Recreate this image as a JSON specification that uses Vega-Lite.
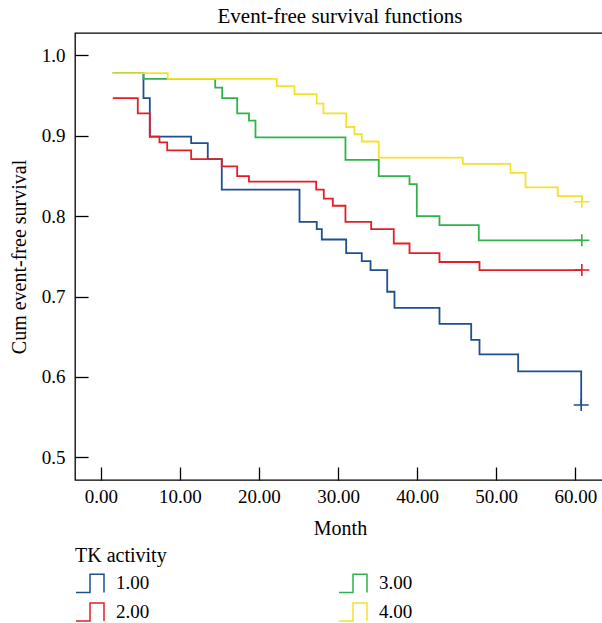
{
  "$schema": "https://vega.github.io/schema/vega-lite/v6.json",
  "autosize": {"type": "none"},
  "padding": {"left": 75, "top": 33, "right": 0, "bottom": 143},
  "width": 530,
  "height": 447,
  "background": "white",
  "title": {
    "text": "Event-free survival functions",
    "anchor": "middle",
    "font": "Liberation Serif",
    "fontSize": 21,
    "fontWeight": "normal",
    "color": "black",
    "offset": 6,
    "frame": "group"
  },
  "config": {
    "view": {"stroke": "black", "strokeWidth": 1.3},
    "axis": {
      "labelFont": "Liberation Serif",
      "titleFont": "Liberation Serif",
      "labelColor": "black",
      "titleColor": "black",
      "labelFontSize": 19,
      "titleFontSize": 20,
      "titleFontWeight": "normal",
      "domain": false,
      "grid": false,
      "tickColor": "black",
      "tickWidth": 1.3,
      "tickSize": -13
    },
    "legend": {
      "labelFont": "Liberation Serif",
      "titleFont": "Liberation Serif",
      "labelFontSize": 19,
      "titleFontSize": 20,
      "titleFontWeight": "normal",
      "labelColor": "black",
      "titleColor": "black"
    }
  },
  "datasets": {
    "curves": [
      {"g": "1.00", "m": 1.52, "s": 0.978},
      {"g": "1.00", "m": 5.40, "s": 0.947},
      {"g": "1.00", "m": 6.20, "s": 0.899},
      {"g": "1.00", "m": 11.43, "s": 0.891},
      {"g": "1.00", "m": 13.53, "s": 0.871},
      {"g": "1.00", "m": 15.30, "s": 0.833},
      {"g": "1.00", "m": 25.13, "s": 0.793},
      {"g": "1.00", "m": 27.31, "s": 0.784},
      {"g": "1.00", "m": 27.95, "s": 0.771},
      {"g": "1.00", "m": 31.03, "s": 0.754},
      {"g": "1.00", "m": 33.00, "s": 0.744},
      {"g": "1.00", "m": 34.11, "s": 0.733},
      {"g": "1.00", "m": 36.22, "s": 0.706},
      {"g": "1.00", "m": 37.14, "s": 0.686},
      {"g": "1.00", "m": 42.83, "s": 0.666},
      {"g": "1.00", "m": 46.84, "s": 0.646},
      {"g": "1.00", "m": 47.89, "s": 0.628},
      {"g": "1.00", "m": 52.78, "s": 0.607},
      {"g": "1.00", "m": 60.75, "s": 0.565},
      {"g": "2.00", "m": 1.52, "s": 0.947},
      {"g": "2.00", "m": 4.68, "s": 0.928},
      {"g": "2.00", "m": 6.20, "s": 0.899},
      {"g": "2.00", "m": 7.42, "s": 0.892},
      {"g": "2.00", "m": 8.40, "s": 0.882},
      {"g": "2.00", "m": 11.43, "s": 0.871},
      {"g": "2.00", "m": 15.30, "s": 0.862},
      {"g": "2.00", "m": 17.25, "s": 0.850},
      {"g": "2.00", "m": 18.74, "s": 0.843},
      {"g": "2.00", "m": 27.24, "s": 0.833},
      {"g": "2.00", "m": 28.20, "s": 0.822},
      {"g": "2.00", "m": 29.34, "s": 0.813},
      {"g": "2.00", "m": 30.94, "s": 0.793},
      {"g": "2.00", "m": 34.19, "s": 0.784},
      {"g": "2.00", "m": 37.05, "s": 0.766},
      {"g": "2.00", "m": 39.04, "s": 0.754},
      {"g": "2.00", "m": 42.83, "s": 0.743},
      {"g": "2.00", "m": 47.89, "s": 0.733},
      {"g": "2.00", "m": 60.83, "s": 0.733},
      {"g": "3.00", "m": 1.52, "s": 0.978},
      {"g": "3.00", "m": 5.40, "s": 0.971},
      {"g": "3.00", "m": 14.47, "s": 0.960},
      {"g": "3.00", "m": 15.35, "s": 0.947},
      {"g": "3.00", "m": 17.25, "s": 0.928},
      {"g": "3.00", "m": 18.74, "s": 0.919},
      {"g": "3.00", "m": 19.56, "s": 0.898},
      {"g": "3.00", "m": 30.94, "s": 0.870},
      {"g": "3.00", "m": 35.15, "s": 0.850},
      {"g": "3.00", "m": 39.04, "s": 0.840},
      {"g": "3.00", "m": 39.96, "s": 0.800},
      {"g": "3.00", "m": 42.83, "s": 0.789},
      {"g": "3.00", "m": 47.80, "s": 0.770},
      {"g": "3.00", "m": 60.83, "s": 0.770},
      {"g": "4.00", "m": 1.52, "s": 0.978},
      {"g": "4.00", "m": 8.47, "s": 0.971},
      {"g": "4.00", "m": 22.26, "s": 0.962},
      {"g": "4.00", "m": 24.49, "s": 0.952},
      {"g": "4.00", "m": 27.31, "s": 0.940},
      {"g": "4.00", "m": 28.16, "s": 0.928},
      {"g": "4.00", "m": 31.03, "s": 0.911},
      {"g": "4.00", "m": 32.08, "s": 0.902},
      {"g": "4.00", "m": 33.00, "s": 0.893},
      {"g": "4.00", "m": 35.15, "s": 0.873},
      {"g": "4.00", "m": 45.78, "s": 0.865},
      {"g": "4.00", "m": 51.81, "s": 0.854},
      {"g": "4.00", "m": 53.71, "s": 0.836},
      {"g": "4.00", "m": 57.79, "s": 0.825},
      {"g": "4.00", "m": 60.83, "s": 0.818}
    ],
    "censor": [
      {"g": "1.00", "m": 60.75, "s": 0.565},
      {"g": "2.00", "m": 60.83, "s": 0.733},
      {"g": "3.00", "m": 60.83, "s": 0.770},
      {"g": "4.00", "m": 60.83, "s": 0.818}
    ]
  },
  "layer": [
    {
      "data": {"name": "curves"},
      "mark": {"type": "line", "interpolate": "step-after", "strokeWidth": 1.8},
      "encoding": {
        "x": {
          "field": "m", "type": "quantitative",
          "scale": {"domain": [-3.26, 63.76], "nice": false, "zero": false},
          "axis": {"title": "Month", "values": [0, 10, 20, 30, 40, 50, 60], "format": ".2f", "labelPadding": 20, "titlePadding": 12, "labelFlush": false}
        },
        "y": {
          "field": "s", "type": "quantitative",
          "scale": {"domain": [0.4717, 1.028], "nice": false, "zero": false},
          "axis": {"title": "Cum event-free survival", "values": [0.5, 0.6, 0.7, 0.8, 0.9, 1.0], "format": ".1f", "labelPadding": 23, "titlePadding": 12, "labelFlush": false}
        },
        "color": {
          "field": "g", "type": "nominal",
          "scale": {"domain": ["1.00", "3.00", "2.00", "4.00"], "range": ["#1d4f91", "#2fb34a", "#e41e26", "#f4e22a"]},
          "legend": {
            "title": "TK activity",
            "orient": "none",
            "legendX": 0,
            "legendY": 513,
            "columns": 2,
            "direction": "horizontal",
            "columnPadding": 186,
            "rowPadding": 1,
            "symbolType": "M-1,0.65H0V-0.65H1V0.65",
            "symbolSize": 784,
            "symbolStrokeWidth": 1.5,
            "symbolFillColor": "transparent",
            "labelOffset": 11,
            "titlePadding": 2
          }
        },
        "order": {"field": "m", "type": "quantitative"}
      }
    },
    {
      "data": {"name": "censor"},
      "mark": {"type": "point", "shape": "M-1,0H1M0,-0.8V0.8", "size": 225, "filled": false, "strokeWidth": 1.6, "opacity": 1},
      "encoding": {
        "x": {"field": "m", "type": "quantitative"},
        "y": {"field": "s", "type": "quantitative"},
        "stroke": {
          "field": "g", "type": "nominal",
          "scale": {"domain": ["1.00", "3.00", "2.00", "4.00"], "range": ["#1d4f91", "#2fb34a", "#e41e26", "#f4e22a"]},
          "legend": null
        }
      }
    }
  ]
}
